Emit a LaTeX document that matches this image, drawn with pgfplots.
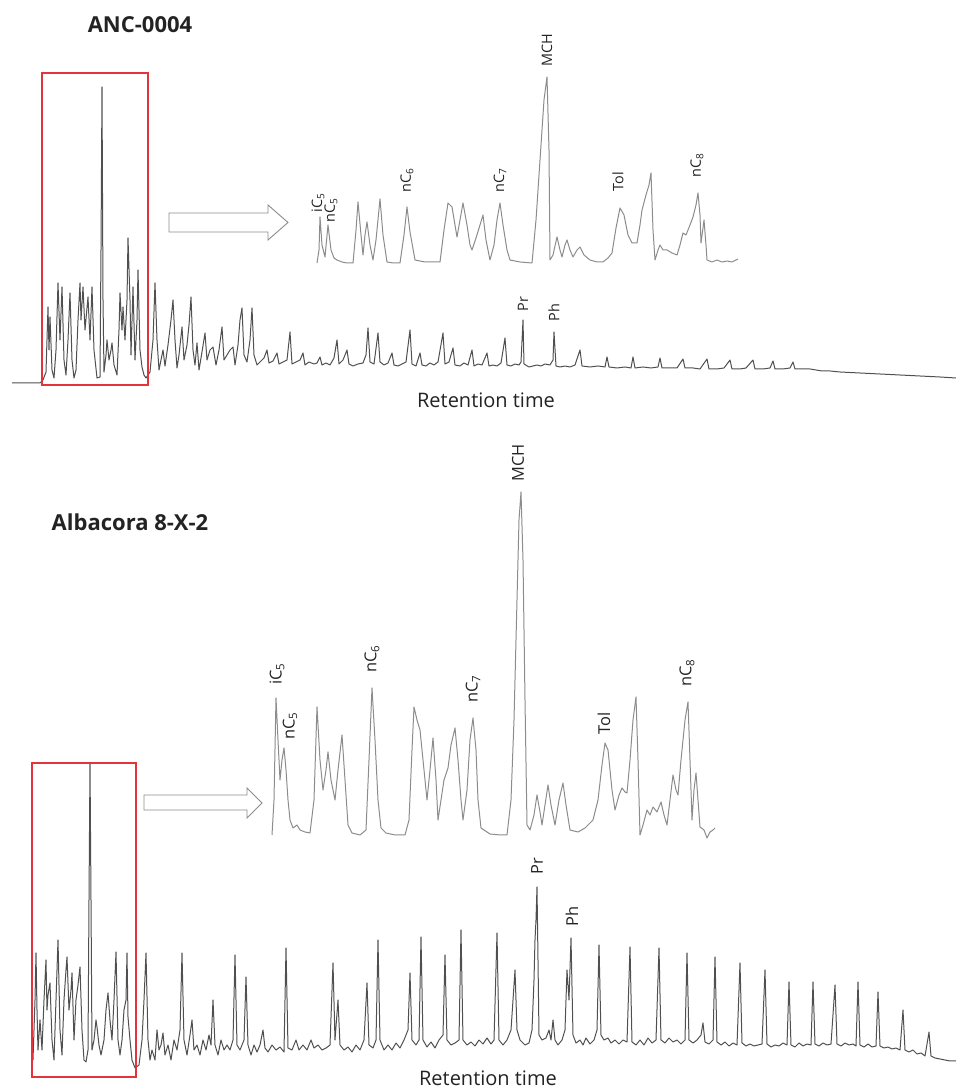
\documentclass[border=0pt]{standalone}
\usepackage{pgfplots}
\pgfplotsset{compat=1.18}
\usepackage{fontspec}
\setmainfont{Open Sans}
\definecolor{boxred}{RGB}{226,52,58}
\definecolor{tracemain}{RGB}{80,80,80}
\definecolor{traceinset}{RGB}{140,140,140}
\definecolor{arrowgray}{RGB}{140,140,140}
\definecolor{txt}{RGB}{35,35,35}
\pgfplotsset{chrom/.style={scale only axis, hide axis, clip=false, anchor=south west, ymin=0},
  tr/.style={no marks, line width=0.5pt, line join=round}}
\tikzset{labT/.style={rotate=90, anchor=west, inner sep=0pt, text=txt, font=\fontsize{7.2}{8}\selectfont},
  labB/.style={rotate=90, anchor=west, inner sep=0pt, text=txt, font=\fontsize{8.2}{9}\selectfont}}
\begin{document}
\begin{tikzpicture}[x=0.5pt,y=0.5pt]
\useasboundingbox (0,0) rectangle (956,1088);

% ---------------- Top panel: ANC-0004 ----------------
\begin{axis}[chrom, at={(12,698)}, xmin=12, xmax=956, ymax=320, width=472pt, height=160pt]
\addplot[tr, tracemain] coordinates {
(12,7)(40,7)(43,10)(46,18)(48,83)(49,40)(50,73)(52,20)(54,12)(56,40)(58,107)(60,50)(62,103)(64,30)(66,15)(68,50)(70,97)(72,30)(74,12)(76,20)(78,70)(80,107)(81,70)(83,103)(85,60)(88,93)(90,50)(92,103)(94,40)(97,12)(100,13)(101,140)(102,303)(103,90)(104,18)(106,35)(107,50)(109,30)(111,40)(112,47)(114,25)(117,15)(119,60)(120,97)(122,60)(123,83)(125,50)(127,90)(128,152)(130,90)(131,35)(133,103)(135,30)(137,70)(138,120)(140,40)(142,23)(144,15)(146,12)(150,18)(153,50)(155,107)(157,50)(159,20)(161,30)(163,40)(165,24)(168,45)(171,70)(173,90)(175,50)(177,22)(179,35)(182,63)(184,30)(187,45)(189,65)(191,93)(193,40)(195,25)(197,47)(199,20)(202,38)(205,57)(207,30)(210,40)(213,43)(216,25)(219,40)(222,63)(224,30)(227,35)(230,40)(233,43)(235,25)(238,45)(240,70)(242,82)(244,35)(247,28)(250,50)(252,82)(254,35)(257,25)(260,28)(264,32)(267,40)(269,27)(273,29)(277,37)(279,26)(283,28)(287,30)(290,58)(292,26)(296,28)(300,30)(303,37)(305,25)(309,28)(314,26)(317,27)(320,33)(322,25)(326,27)(330,25)(334,32)(337,50)(339,26)(343,30)(347,40)(349,26)(353,24)(358,26)(363,27)(366,35)(368,62)(370,28)(374,26)(378,57)(380,28)(384,25)(388,27)(392,37)(394,25)(398,24)(402,26)(406,28)(410,60)(412,26)(416,24)(420,37)(422,25)(426,24)(430,27)(434,25)(438,28)(443,57)(445,26)(449,28)(453,42)(455,25)(460,24)(464,27)(468,25)(472,40)(474,24)(478,26)(482,25)(487,37)(489,24)(493,25)(497,24)(501,27)(505,52)(507,25)(511,24)(515,26)(519,25)(521,28)(523,70)(524,26)(529,23)(533,24)(537,25)(541,24)(545,26)(550,25)(553,30)(554,58)(556,24)(560,23)(565,24)(570,23)(575,25)(580,40)(582,24)(590,23)(598,24)(605,23)(607,33)(609,23)(617,22)(625,23)(631,22)(633,33)(635,22)(643,23)(651,22)(658,23)(660,32)(662,22)(670,22)(677,22)(683,31)(685,22)(693,22)(700,21)(707,31)(709,21)(717,21)(724,22)(730,30)(732,21)(740,21)(746,22)(753,30)(755,21)(763,21)(770,22)(773,29)(775,21)(783,21)(790,22)(793,28)(795,21)(803,21)(810,21)(816,20)(822,19)(830,19)(840,18)(860,17)(880,16)(900,15)(920,14)(940,13)(956,12)
};
% red box
\addplot[no marks, boxred, line width=1pt] coordinates {(42,5)(148,5)(148,317)(42,317)} -- cycle;
% arrow
\addplot[no marks, arrowgray, line width=0.45pt, fill=white] coordinates {(169,158)(268,158)(268,150)(288,167.5)(268,185)(268,177)(169,177)} -- cycle;
\node[labT] at (523,78) {Pr};
\node[labT] at (554,68) {Ph};
\end{axis}

\begin{axis}[chrom, at={(310,818)}, xmin=310, xmax=745, ymax=220, width=217.5pt, height=110pt]
\addplot[tr, traceinset] coordinates {
(317,7)(319,20)(320,53)(322,25)(325,13)(328,45)(331,20)(334,12)(337,10)(342,8)(347,7)(353,7)(356,40)(358,68)(361,35)(363,15)(365,35)(367,48)(370,25)(373,10)(376,30)(380,71)(383,35)(387,8)(393,7)(400,7)(404,35)(407,63)(410,38)(415,10)(425,8)(440,8)(444,40)(448,67)(452,63)(455,45)(457,33)(460,50)(463,67)(467,45)(470,25)(472,20)(476,32)(480,45)(483,55)(486,30)(490,10)(494,25)(497,50)(500,67)(503,45)(507,20)(510,10)(520,8)(532,7)(536,50)(540,110)(544,170)(547,193)(549,120)(550,10)(553,15)(557,33)(560,20)(562,13)(565,25)(567,30)(570,20)(573,13)(577,20)(580,23)(584,15)(590,10)(597,8)(603,8)(608,12)(612,17)(616,42)(620,62)(624,55)(628,35)(632,27)(637,27)(640,45)(642,60)(646,75)(649,85)(651,97)(653,40)(655,10)(658,20)(660,25)(663,20)(667,20)(672,17)(677,15)(680,25)(683,37)(686,35)(690,45)(693,53)(696,65)(698,77)(700,55)(701,27)(703,42)(704,50)(706,25)(707,10)(712,8)(717,10)(722,8)(727,9)(732,8)(738,11)
};
\node[labT] at (318,57) {iC\textsubscript{5}};
\node[labT] at (331,47) {nC\textsubscript{5}};
\node[labT] at (407,77) {nC\textsubscript{6}};
\node[labT] at (500,77) {nC\textsubscript{7}};
\node[labT] at (547,203) {MCH};
\node[labT] at (618,78) {Tol};
\node[labT] at (697,92) {nC\textsubscript{8}};
\end{axis}

% ---------------- Bottom panel: Albacora 8-X-2 ----------------
\begin{axis}[chrom, at={(30,8)}, xmin=30, xmax=956, ymax=320, width=463pt, height=160pt]
\addplot[tr, tracemain] coordinates {
(33,20)(35,80)(36,127)(37,70)(38,30)(40,60)(42,30)(44,80)(46,120)(47,70)(48,85)(50,97)(52,40)(54,20)(56,80)(58,140)(60,50)(62,25)(64,80)(66,110)(67,123)(69,70)(71,90)(72,107)(74,40)(76,80)(78,95)(80,113)(82,50)(84,20)(86,18)(88,30)(89,180)(90,317)(91,180)(92,30)(94,40)(96,60)(97,53)(99,35)(101,25)(104,40)(106,70)(108,87)(110,60)(112,40)(114,80)(116,128)(118,40)(120,25)(122,40)(124,70)(126,80)(127,127)(128,63)(130,40)(132,20)(135,12)(139,15)(142,40)(144,80)(146,127)(148,40)(150,20)(152,30)(155,20)(157,50)(159,30)(161,35)(163,47)(165,25)(168,35)(171,20)(174,40)(177,30)(180,50)(182,127)(184,40)(187,25)(190,45)(192,60)(194,30)(197,35)(200,25)(203,40)(206,30)(209,45)(211,35)(213,80)(215,35)(218,25)(221,40)(224,30)(227,35)(230,30)(233,40)(235,125)(237,35)(240,30)(244,40)(246,103)(248,35)(251,25)(254,35)(257,28)(260,35)(263,50)(265,32)(268,28)(272,35)(276,30)(280,33)(284,28)(286,132)(288,32)(292,30)(296,40)(299,30)(303,35)(307,30)(311,40)(314,32)(318,35)(322,30)(326,32)(330,35)(333,117)(335,40)(338,80)(340,35)(344,30)(348,33)(352,28)(356,35)(360,30)(364,40)(367,97)(369,35)(373,32)(376,40)(378,140)(380,40)(384,30)(388,35)(392,30)(396,37)(400,32)(404,40)(408,50)(410,107)(412,40)(416,35)(419,40)(421,143)(423,40)(427,33)(431,38)(435,32)(439,40)(443,45)(445,125)(447,40)(451,35)(455,37)(459,40)(461,150)(463,40)(467,35)(471,38)(475,34)(479,40)(483,36)(487,42)(491,36)(494,40)(497,147)(499,40)(503,35)(507,40)(511,50)(513,80)(515,110)(517,50)(520,40)(525,35)(529,37)(532,50)(534,100)(535,140)(536,160)(537,193)(538,120)(539,45)(542,40)(546,42)(549,50)(551,40)(553,60)(555,40)(558,35)(562,40)(565,50)(567,110)(569,80)(571,142)(573,45)(576,37)(580,40)(583,35)(586,42)(590,36)(594,40)(597,50)(599,135)(601,45)(604,40)(608,42)(611,37)(615,40)(619,36)(623,40)(627,38)(630,133)(632,38)(636,35)(640,40)(644,35)(648,42)(652,37)(656,40)(659,132)(661,40)(665,37)(669,42)(673,38)(677,40)(681,36)(685,40)(687,127)(689,40)(693,37)(697,40)(701,45)(703,57)(705,38)(709,36)(713,40)(715,123)(717,38)(721,35)(725,38)(729,34)(733,37)(737,35)(740,117)(742,37)(746,34)(750,36)(754,34)(758,35)(762,36)(765,110)(767,36)(771,33)(775,35)(779,34)(783,37)(787,35)(789,98)(791,35)(795,33)(799,37)(803,34)(807,36)(811,35)(813,98)(815,36)(819,34)(823,37)(827,35)(831,36)(835,95)(837,36)(841,34)(845,37)(849,35)(853,36)(856,34)(858,98)(860,35)(864,33)(868,36)(872,33)(876,34)(878,88)(880,34)(884,32)(888,33)(892,31)(896,32)(900,30)(903,70)(905,30)(909,28)(913,30)(917,26)(921,27)(925,24)(929,48)(931,24)(935,22)(940,21)(945,20)(950,19)(956,19)
};
\addplot[no marks, boxred, line width=1pt] coordinates {(32,3)(136,3)(136,317)(32,317)} -- cycle;
\addplot[no marks, arrowgray, line width=0.45pt, fill=white] coordinates {(144,270)(247,270)(247,262)(262,277)(247,292)(247,285)(144,285)} -- cycle;
\node[labB] at (537,205) {Pr};
\node[labB] at (572,153) {Ph};
\end{axis}

\begin{axis}[chrom, at={(265,243)}, xmin=265, xmax=720, ymax=380, width=227.5pt, height=190pt]
\addplot[tr, traceinset] coordinates {
(272,10)(274,45)(276,147)(278,105)(280,65)(282,85)(284,97)(286,75)(288,45)(290,25)(293,17)(297,20)(300,15)(305,13)(310,12)(314,45)(317,138)(320,85)(323,55)(326,75)(328,93)(331,65)(335,45)(338,75)(342,110)(345,65)(348,20)(352,12)(360,10)(366,15)(369,85)(372,157)(375,105)(378,45)(381,17)(386,12)(395,10)(405,10)(409,25)(412,95)(414,138)(417,125)(420,115)(423,85)(427,45)(430,75)(433,107)(436,65)(438,25)(441,45)(444,65)(448,77)(451,100)(455,117)(458,85)(461,45)(463,25)(467,55)(470,105)(473,127)(476,95)(478,45)(481,17)(490,11)(500,10)(507,10)(511,45)(514,125)(517,245)(519,325)(521,353)(523,285)(525,145)(527,20)(530,15)(534,30)(537,50)(540,33)(542,20)(545,40)(548,60)(551,40)(555,20)(559,45)(563,62)(566,40)(570,15)(578,13)(585,17)(593,25)(598,45)(602,80)(605,102)(608,95)(612,55)(615,35)(619,50)(622,57)(625,53)(627,52)(630,85)(633,125)(636,148)(638,85)(640,10)(643,20)(647,35)(650,30)(653,38)(657,33)(661,43)(664,30)(667,20)(670,45)(673,70)(676,55)(678,50)(681,85)(685,125)(688,143)(690,85)(692,25)(694,55)(696,72)(698,45)(700,18)(704,15)(707,7)(710,13)(713,15)(715,17)
};
\node[labB] at (277,160) {iC\textsubscript{5}};
\node[labB] at (290,105) {nC\textsubscript{5}};
\node[labB] at (372,172) {nC\textsubscript{6}};
\node[labB] at (473,142) {nC\textsubscript{7}};
\node[labB] at (518,363) {MCH};
\node[labB] at (604,110) {Tol};
\node[labB] at (687,158) {nC\textsubscript{8}};
\end{axis}

% titles and axis captions
\node[text=txt, font=\fontsize{11}{13}\selectfont\bfseries, inner sep=0pt] at (140,1063) {ANC-0004};
\node[text=txt, font=\fontsize{11}{13}\selectfont\bfseries, inner sep=0pt] at (130,566) {Albacora 8-X-2};
\node[text=txt, font=\fontsize{10}{12}\selectfont, inner sep=0pt] at (486,688) {Retention time};
\node[text=txt, font=\fontsize{10}{12}\selectfont, inner sep=0pt, anchor=base] at (488,3) {Retention time};
\end{tikzpicture}
\end{document}
